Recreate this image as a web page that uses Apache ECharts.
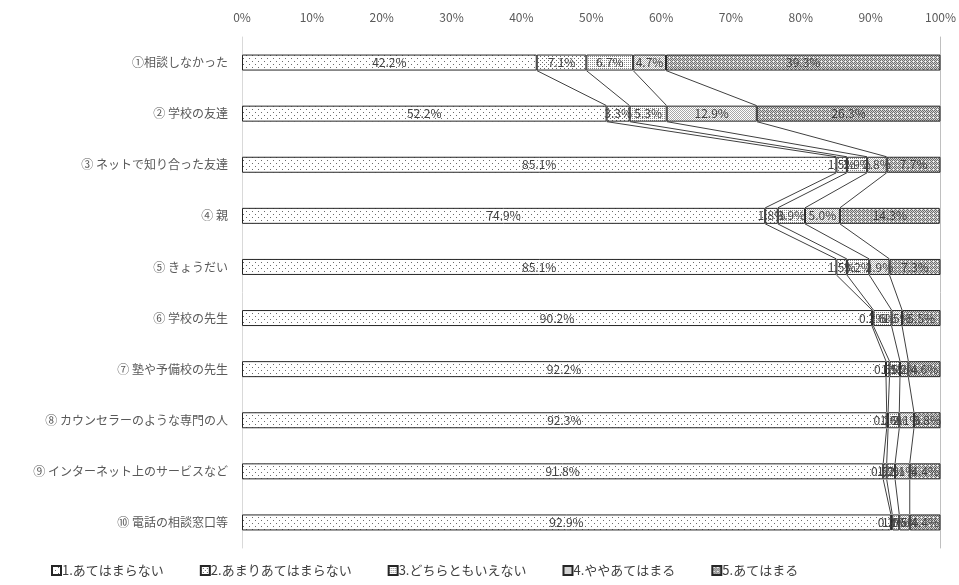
<!DOCTYPE html>
<html>
<head>
<meta charset="utf-8">
<script src="https://cdn.jsdelivr.net/npm/echarts@6/dist/echarts.min.js"></script>
<style>
  html, body { margin: 0; padding: 0; background: #fff; }
  #chart { width: 959px; height: 585px; }
</style>
</head>
<body>
<div id="chart"></div>
<script>
// categories (top to bottom)
const categories = [
    '①相談しなかった',
    '② 学校の友達',
    '③ ネットで知り合った友達',
    '④ 親',
    '⑤ きょうだい',
    '⑥ 学校の先生',
    '⑦ 塾や予備校の先生',
    '⑧ カウンセラーのような専門の人',
    '⑨ インターネット上のサービスなど',
    '⑩ 電話の相談窓口等'
];

const seriesNames = [
    '1.あてはまらない',
    '2.あまりあてはまらない',
    '3.どちらともいえない',
    '4.ややあてはまる',
    '5.あてはまる'
];

// percentages per answer
const s1 = [42.2, 52.2, 85.1, 74.9, 85.1, 90.2, 92.2, 92.3, 91.8, 92.9];
const s2 = [7.1, 3.3, 1.5, 1.8, 1.5, 0.2, 0.5, 0.2, 0.5, 0.2];
const s3 = [6.7, 5.3, 2.9, 3.9, 3.2, 2.6, 1.5, 1.6, 1.2, 1.0];
const s4 = [4.7, 12.9, 2.8, 5.0, 2.9, 1.5, 1.2, 2.1, 2.1, 1.5];
const s5 = [39.3, 26.3, 7.7, 14.3, 7.3, 5.5, 4.6, 3.8, 4.4, 4.4];

const xTicks = [0, 10, 20, 30, 40, 50, 60, 70, 80, 90, 100];

// little tiles for the hatch fills
function makePattern(size, draw) {
    const c = document.createElement('canvas');
    c.width = size;
    c.height = size;
    const ctx = c.getContext('2d');
    ctx.fillStyle = '#fff';
    ctx.fillRect(0, 0, size, size);
    draw(ctx);
    return { image: c, repeat: 'repeat' };
}

const patterns = [
    makePattern(6, ctx => {
        ctx.fillStyle = '#6a6a6a';
        ctx.fillRect(0, 1, 1, 1);
        ctx.fillRect(3, 4, 1, 1);
    }),
    makePattern(4, ctx => {
        ctx.fillStyle = '#6a6a6a';
        ctx.fillRect(0, 0, 1, 1);
        ctx.fillRect(2, 2, 1, 1);
    }),
    makePattern(2, ctx => {
        ctx.fillStyle = '#8a8a8a';
        ctx.fillRect(0, 0, 1, 1);
    }),
    makePattern(2, ctx => {
        ctx.fillStyle = '#a8a8a8';
        ctx.fillRect(0, 0, 1, 1);
        ctx.fillRect(1, 1, 1, 1);
    }),
    makePattern(4, ctx => {
        ctx.fillStyle = '#d4d4d4';
        ctx.fillRect(0, 0, 4, 4);
        ctx.fillStyle = '#6e6e6e';
        ctx.fillRect(0, 0, 1, 1);
        ctx.fillRect(2, 0, 1, 1);
        ctx.fillRect(1, 1, 1, 1);
        ctx.fillRect(3, 1, 1, 1);
        ctx.fillRect(0, 2, 1, 1);
        ctx.fillRect(2, 2, 1, 1);
        ctx.fillRect(1, 3, 1, 1);
        ctx.fillRect(3, 3, 1, 1);
        ctx.fillStyle = '#fff';
        ctx.fillRect(1, 1, 1, 1);
    })
];

const values = [s1, s2, s3, s4, s5];
const BAR_W = 16;
const FONT = '"Noto Sans CJK JP", "Noto Sans", sans-serif';

// cumulative right edges for the series lines
const lineData = [];
for (let k = 0; k < 4; k++) {
    for (let i = 0; i < categories.length - 1; i++) {
        let a = 0, b = 0;
        for (let j = 0; j <= k; j++) {
            a += values[j][i];
            b += values[j][i + 1];
        }
        lineData.push([a, i, b]);
    }
}

const chart = echarts.init(document.getElementById('chart'));

const barSeries = values.map((vals, idx) => ({
    type: 'bar',
    name: seriesNames[idx],
    stack: 'total',
    barWidth: BAR_W,
    data: vals,
    itemStyle: {
        color: patterns[idx],
        borderColor: '#262626',
        borderWidth: 1
    },
    label: {
        show: true,
        position: 'inside',
        color: '#404040',
        fontSize: 12,
        fontFamily: FONT,
        formatter: p => p.value.toFixed(1) + '%'
    },
    emphasis: { disabled: true },
    z: 3
}));

const option = {
    animation: false,
    textStyle: { fontFamily: FONT },
    grid: { left: 242, right: 17, top: 37, bottom: 37 },
    legend: {
        bottom: 3,
        left: 46,
        icon: 'rect',
        itemWidth: 9,
        itemHeight: 9,
        itemGap: 36,
        data: seriesNames,
        textStyle: { color: '#404040', fontSize: 13, padding: [0, 0, 0, -4] }
    },
    xAxis: {
        type: 'value',
        position: 'top',
        min: 0,
        max: 100,
        interval: 10,
        axisLine: { show: false },
        axisTick: { show: false },
        splitLine: { show: false },
        axisLabel: {
            color: '#595959',
            fontSize: 12,
            margin: 14,
            formatter: v => xTicks.includes(v) ? v + '%' : ''
        }
    },
    yAxis: [{
        type: 'category',
        data: categories,
        inverse: true,
        axisLine: { show: true, lineStyle: { color: '#d9d9d9' } },
        axisTick: { show: false },
        axisLabel: { color: '#595959', fontSize: 12, margin: 14 }
    }, {
        type: 'category',
        data: categories,
        inverse: true,
        position: 'right',
        axisLine: { show: true, lineStyle: { color: '#bfbfbf' } },
        axisTick: { show: false },
        axisLabel: { show: false }
    }],
    series: barSeries.concat([{
        type: 'custom',
        data: lineData,
        encode: { x: [0, 2], y: 1 },
        z: 2,
        silent: true,
        renderItem: (params, api) => {
            const p1 = api.coord([api.value(0), api.value(1)]);
            const p2 = api.coord([api.value(2), api.value(1) + 1]);
            return {
                type: 'line',
                shape: {
                    x1: p1[0], y1: p1[1] + BAR_W / 2,
                    x2: p2[0], y2: p2[1] - BAR_W / 2
                },
                style: { stroke: '#404040', lineWidth: 1 }
            };
        }
    }])
};

chart.setOption(option);
</script>
</body>
</html>
